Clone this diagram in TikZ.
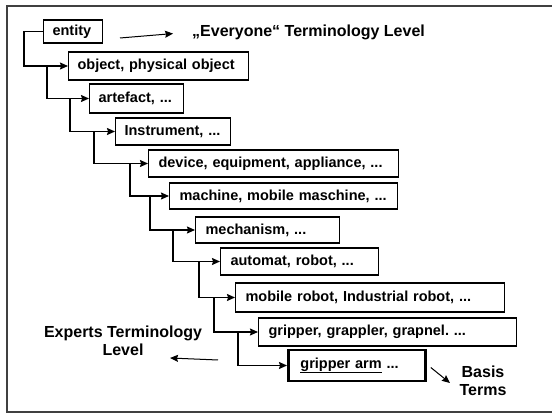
\documentclass[tikz,border=0pt]{standalone}
\usepackage{fontspec}
\setmainfont{Liberation Sans}
\usetikzlibrary{arrows.meta}
\frenchspacing

\begin{document}
\begin{tikzpicture}
            [x=1pt, y=-1pt, >={Stealth[length=8pt,width=7pt,inset=1pt]},
             term/.style={draw, line width=1.1pt, anchor=west, inner xsep=0pt, inner ysep=0pt,
                          minimum height=27pt, align=left, font=\bfseries\fontsize{14.5}{16}\selectfont},
             link/.style={->, line width=1.2pt},
             pointer/.style={->, line width=1pt},
             label/.style={font=\bfseries\fontsize{16}{18}\selectfont, inner sep=0pt, align=center}]
            \useasboundingbox (0,0) rectangle (552,414);
            \draw[line width=1.4pt, black!75] (552,6) -- (7,6) -- (7,412) -- (552,412);

            \node[term, text width=59pt, minimum height=23pt] (entity) at (43,31.5) {\hspace*{9pt}entity};
            \node[term, text width=180pt, minimum height=28pt] (object) at (68,66) {\hspace*{9pt}object, physical object};
            \node[term, text width=94pt, minimum height=29pt] (artefact) at (89,98.5) {\hspace*{9pt}artefact, ...};
            \node[term, text width=115pt] (instrument) at (115,131.5) {\hspace*{9pt}Instrument, ...};
            \node[term, text width=250pt] (device) at (148,163.5) {\hspace*{10pt}device, equipment, appliance, ...};
            \node[term, text width=228pt, minimum height=26pt] (machine) at (169,196) {\hspace*{10pt}machine, mobile maschine, ...};
            \node[term, text width=144pt, minimum height=26pt] (mechanism) at (195,230) {\hspace*{10pt}mechanism, ...};
            \node[term, text width=158pt] (automat) at (220,261.5) {\hspace*{10pt}automat, robot, ...};
            \node[term, text width=269pt, minimum height=29pt] (mobrobot) at (235,297.5) {\hspace*{10pt}mobile robot, Industrial robot, ...};
            \node[term, text width=258pt, minimum height=28pt] (gripper) at (258,332) {\hspace*{10pt}gripper, grappler, grapnel. ...};
            \node[term, text width=137pt, minimum height=31pt, line width=2.8pt] (gripperarm) at (287,365.5) {\hspace*{12pt}\underline{gripper arm} ...};

            \node[label, anchor=west] (everyone) at (192,32) {„Everyone“ Terminology Level};
            \node[label] (experts) at (123,341) {Experts Terminology\\Level};
            \node[label] (basis) at (483,381) {Basis\\Terms};

            \coordinate (b1) at (24,31.5);
            \coordinate (b2) at (47,66);
            \coordinate (b3) at (70,98.5);
            \coordinate (b4) at (94,131.5);
            \coordinate (b5) at (130,163.5);
            \coordinate (b6) at (150,196);
            \coordinate (b7) at (173,230);
            \coordinate (b8) at (199,261.5);
            \coordinate (b9) at (214,297.5);
            \coordinate (b10) at (238,332);
            \coordinate (ev) at (120,38);
            \coordinate (ex) at (218,360);
            \coordinate (extip) at (170,358);
            \coordinate (bttip) at (450,383);

            \draw[link] (entity.west) -- (b1) |- (object.west);
            \draw[link] (b2) |- (artefact.west);
            \draw[link] (b3) |- (instrument.west);
            \draw[link] (b4) |- (device.west);
            \draw[link] (b5) |- (machine.west);
            \draw[link] (b6) |- (mechanism.west);
            \draw[link] (b7) |- (automat.west);
            \draw[link] (b8) |- (mobrobot.west);
            \draw[link] (b9) |- (gripper.west);
            \draw[link] (b10) |- (gripperarm.west);

            \draw[pointer, shorten >=19pt] (ev) -- (everyone.west);
            \draw[pointer] (ex) -- (extip);
            \draw[pointer] ([xshift=4pt,yshift=-2pt]gripperarm.east) -- (bttip);
        \end{tikzpicture}
\end{document}
